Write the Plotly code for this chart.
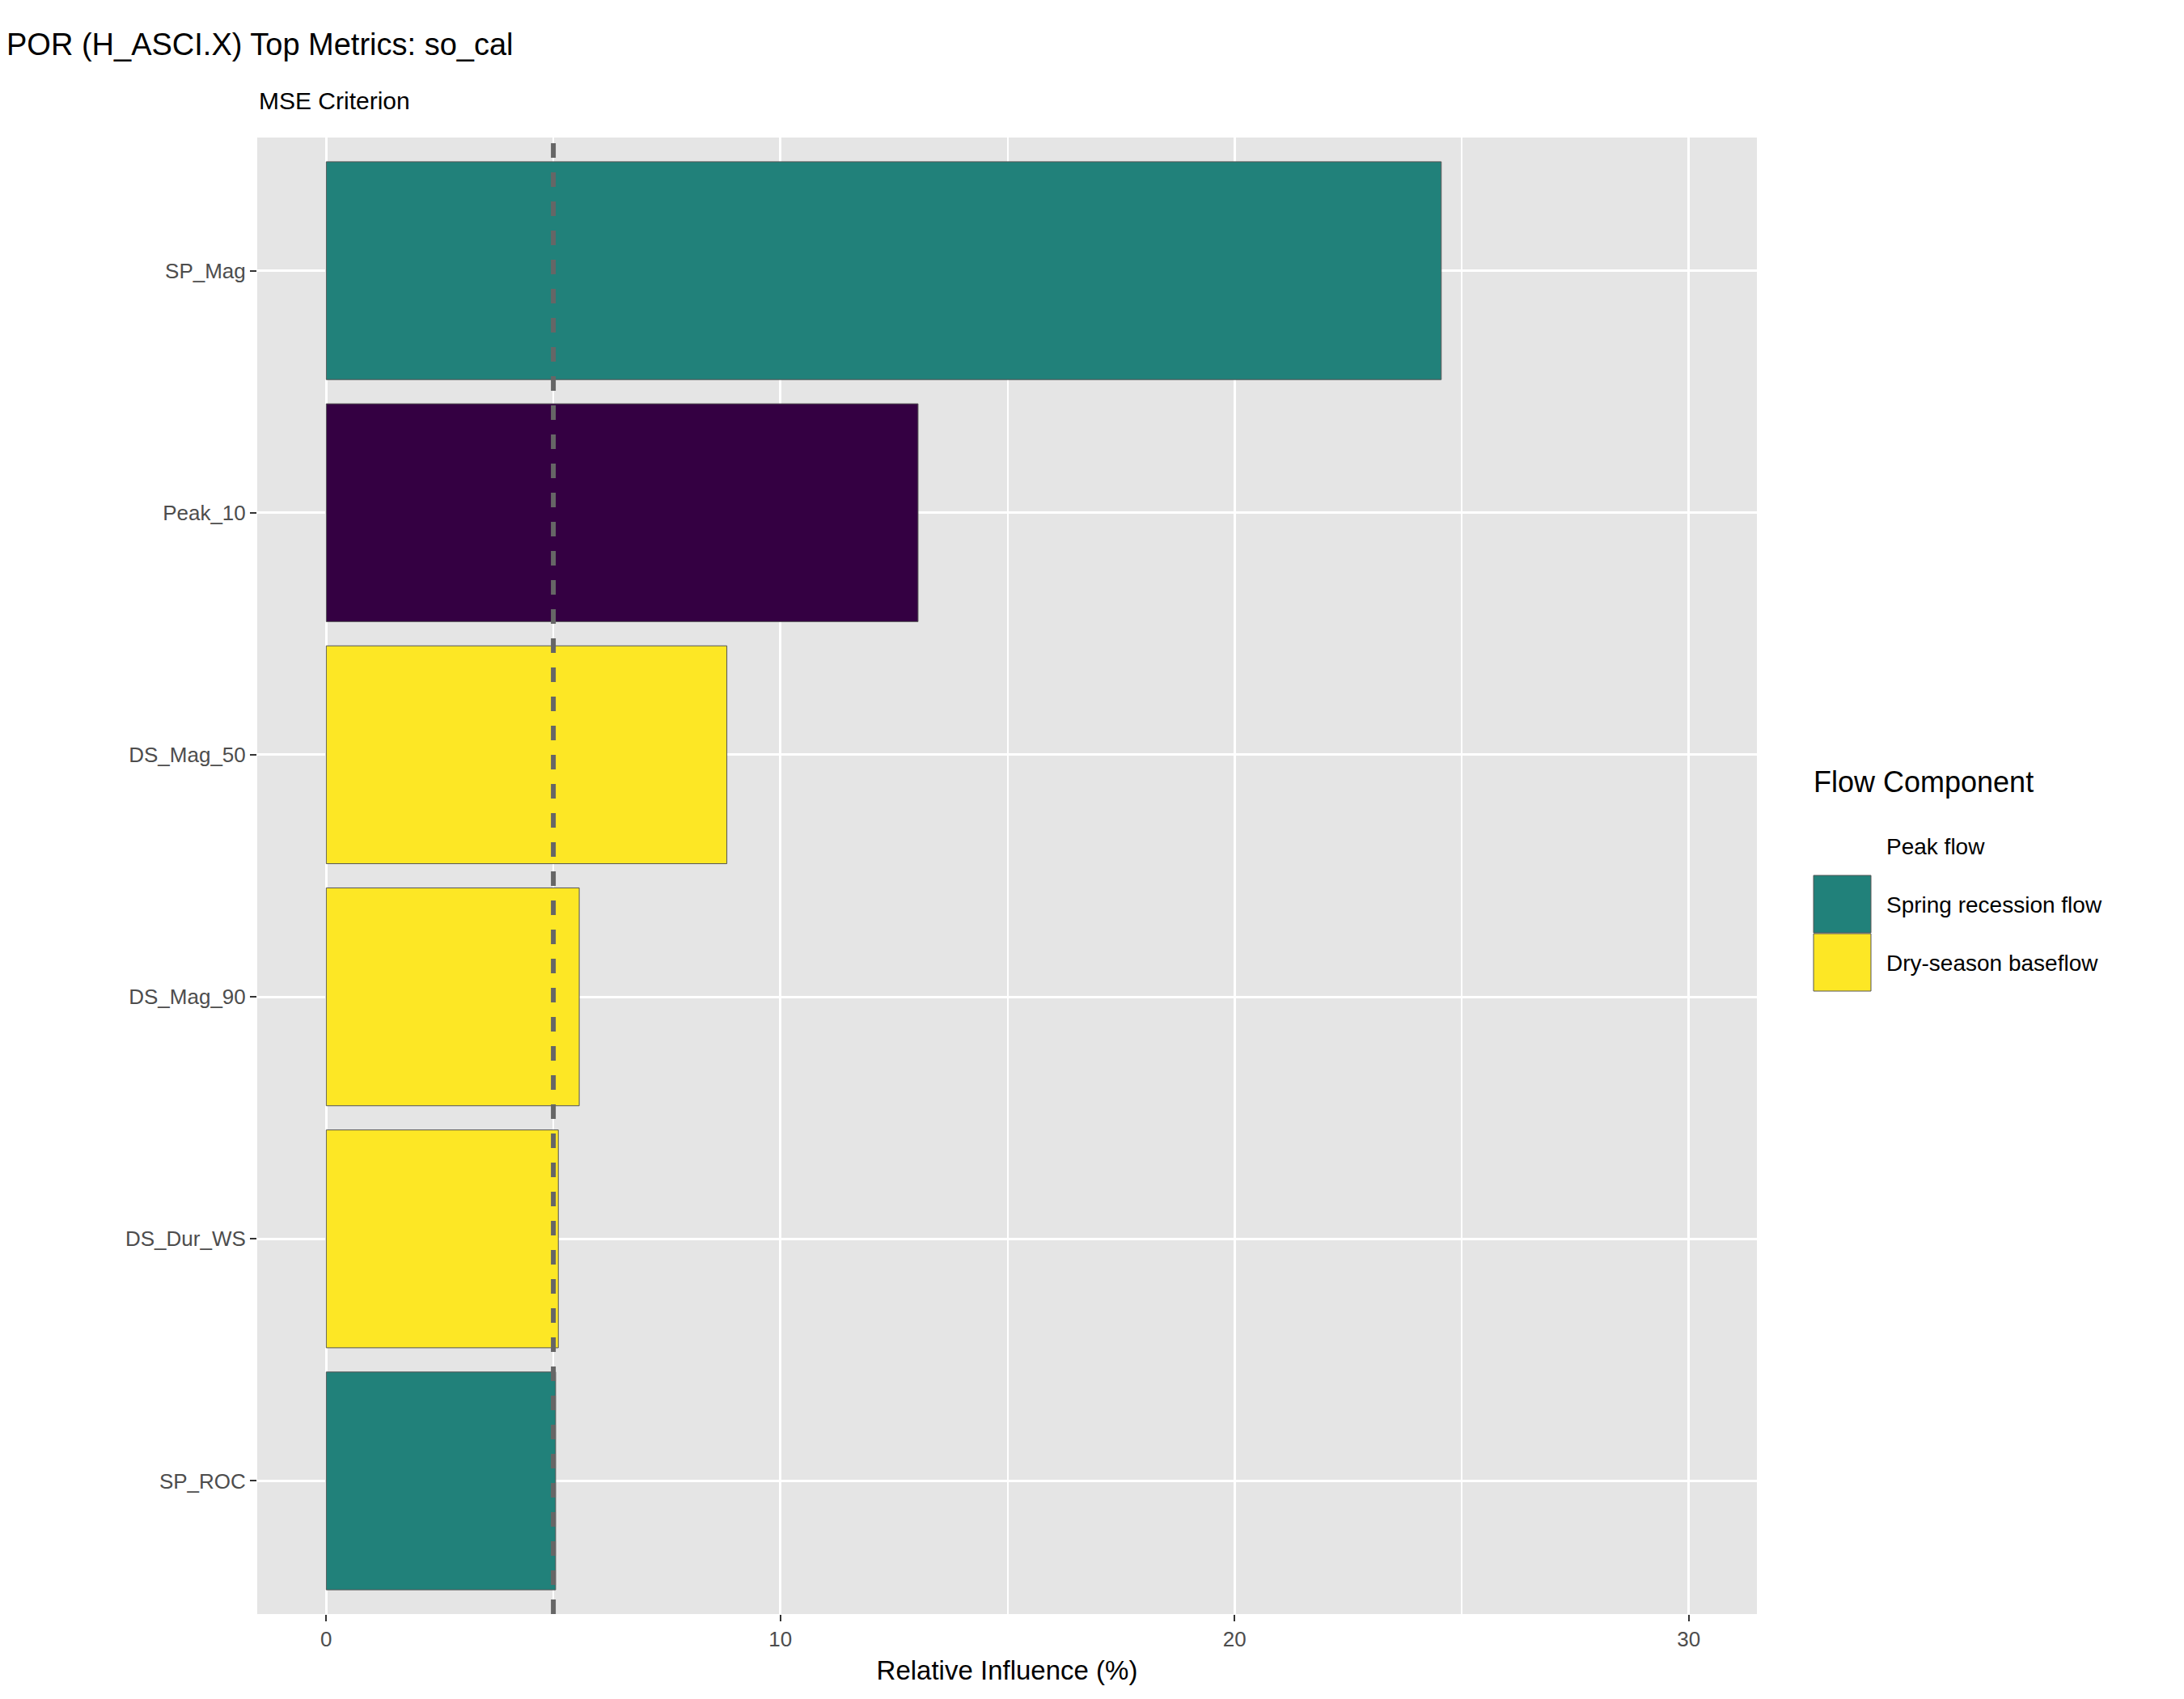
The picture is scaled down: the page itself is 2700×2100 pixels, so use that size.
import plotly.graph_objects as go

metrics = ["SP_Mag", "Peak_10", "DS_Mag_50", "DS_Mag_90", "DS_Dur_WS", "SP_ROC"]
influence = [24.55, 13.03, 8.82, 5.57, 5.11, 5.05]
component = ["Spring recession flow", "Peak flow", "Dry-season baseflow",
             "Dry-season baseflow", "Dry-season baseflow", "Spring recession flow"]
legend_order = ["Peak flow", "Spring recession flow", "Dry-season baseflow"]
colors = {"Peak flow": "#340042", "Spring recession flow": "#21817A", "Dry-season baseflow": "#FDE725"}
cutoff = 5

W, H = 2700, 2100
L, R, T, B = 310, 536, 162, 113
pw, ph = W - L - R, H - T - B

fig = go.Figure()
for comp in legend_order:
    xs = [v for v, c in zip(influence, component) if c == comp]
    ys = [m for m, c in zip(metrics, component) if c == comp]
    fig.add_trace(go.Bar(x=xs, y=ys, orientation="h", width=0.9,
                         marker=dict(color=colors[comp], line=dict(color="#555555", width=1)),
                         showlegend=False))

fig.add_vline(x=cutoff, line=dict(color="#666666", width=6, dash="dash"))

def px(x): return (x - L) / pw
def py(y): return (H - B - y) / ph

shapes = []
annos = [dict(text="Flow Component", x=px(2232), y=py(958), xref="paper", yref="paper",
              xanchor="left", yanchor="middle", showarrow=False, font=dict(size=36, color="black"))]
top = 1002
for comp in legend_order:
    shapes.append(dict(type="rect", xref="paper", yref="paper", x0=px(2234), x1=px(2305),
                       y0=py(top + 71), y1=py(top), fillcolor=colors[comp],
                       line=dict(color="#555555", width=1)))
    annos.append(dict(text=comp, x=px(2322), y=py(top + 36), xref="paper", yref="paper",
                      xanchor="left", yanchor="middle", showarrow=False, font=dict(size=28, color="black")))
    top += 72
annos.append(dict(text="MSE Criterion", x=px(310), y=py(117), xref="paper", yref="paper",
                  xanchor="left", yanchor="middle", showarrow=False, font=dict(size=30, color="black")))

fig.update_layout(
    width=W, height=H, margin=dict(l=L, r=R, t=T, b=B),
    paper_bgcolor="white", plot_bgcolor="#E5E5E5",
    font=dict(family="Liberation Sans, Arial", color="#4D4D4D"),
    title=dict(text="POR (H_ASCI.X) Top Metrics: so_cal", x=px(310), xanchor="left",
               y=1 - 47 / H, yanchor="middle", font=dict(size=38, color="black")),
    xaxis=dict(range=[-1.52, 31.5], tickvals=[0, 10, 20, 30], showgrid=True, gridcolor="white",
               gridwidth=3, zeroline=False, ticks="outside", ticklen=8, tickcolor="#333333",
               tickwidth=2, tickfont=dict(size=26, color="#4D4D4D"),
               minor=dict(tickvals=[5, 15, 25], showgrid=True, gridcolor="white", gridwidth=1.5),
               title=dict(text="Relative Influence (%)", font=dict(size=33, color="black"), standoff=12)),
    yaxis=dict(categoryorder="array", categoryarray=metrics[::-1], range=[-0.55, 5.55],
               showgrid=True, gridcolor="white", gridwidth=3, ticks="outside", ticklen=8,
               tickcolor="#333333", tickwidth=2, tickfont=dict(size=26, color="#4D4D4D")),
    shapes=shapes, annotations=annos, bargap=0.1,
)
fig.write_html("out.html")
